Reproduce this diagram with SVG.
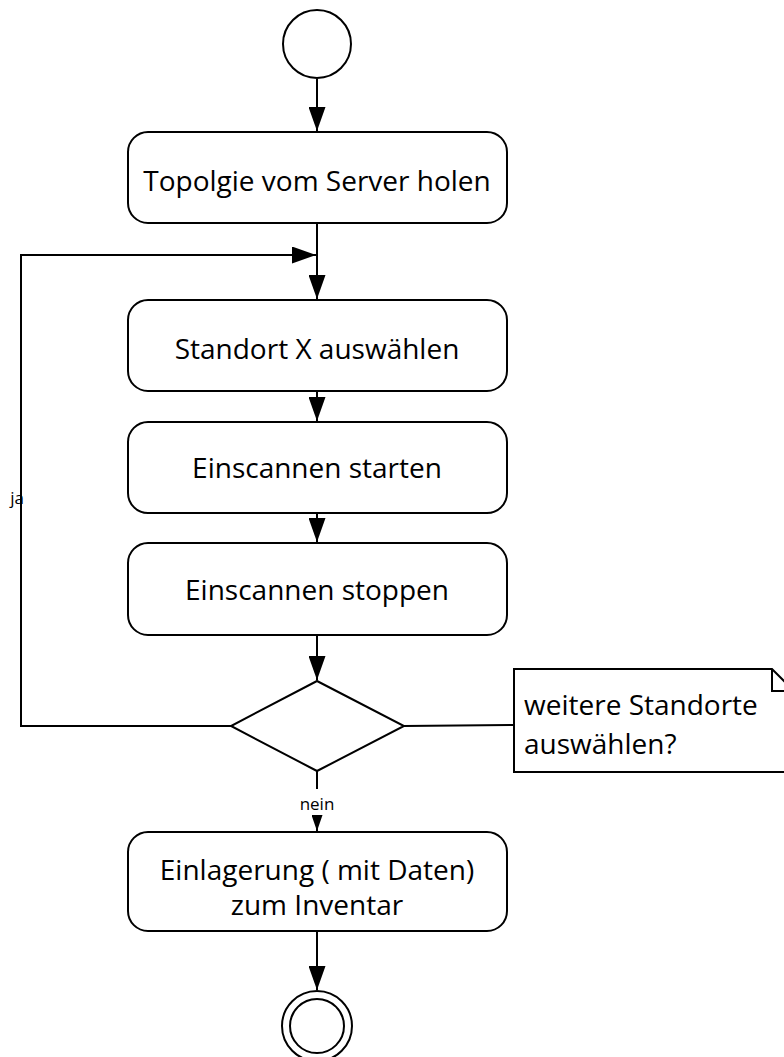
<svg xmlns="http://www.w3.org/2000/svg" width="784" height="1057" viewBox="0 0 784 1057">
<defs>
<style>
.n{fill:#fff;stroke:#000;stroke-width:2}
.t{font-family:"Open Sans","Liberation Sans",sans-serif;font-size:28px;fill:#000;text-anchor:middle}
.l{font-family:"Open Sans","Liberation Sans",sans-serif;font-size:17px;fill:#000;text-anchor:middle}
.c{fill:none;stroke:#000;stroke-width:2}
</style>
<marker id="a" viewBox="0 0 24 17" refX="24" refY="8.5" markerWidth="24" markerHeight="17" markerUnits="userSpaceOnUse" orient="auto"><path d="M0,0L24,8.5L0,17Z" fill="#000"/></marker>
<marker id="s" viewBox="0 0 16 11" refX="16" refY="5.5" markerWidth="16" markerHeight="11" markerUnits="userSpaceOnUse" orient="auto"><path d="M0,0L16,5.5L0,11Z" fill="#000"/></marker>
</defs>
<rect width="784" height="1057" fill="#fff"/>
<g id="connectors">
<path class="c" d="M317,79V131" marker-end="url(#a)"/>
<path class="c" d="M317,223V299" marker-end="url(#a)"/>
<path class="c" d="M231,726H21V483M21,513V255H316" marker-end="url(#a)"/>
<path class="c" d="M317,392V421" marker-end="url(#a)"/>
<path class="c" d="M317,513V542" marker-end="url(#a)"/>
<path class="c" d="M317,635V680" marker-end="url(#a)"/>
<path class="c" d="M317,771V789"/>
<path class="c" d="M317,816V831" marker-end="url(#s)"/>
<path class="c" d="M404,726L514,725"/>
<path class="c" d="M317,931V990" marker-end="url(#a)"/>
<text class="l" x="17" y="504">ja</text>
<text class="l" x="317" y="810">nein</text>
</g>
<g id="start"><circle class="n" cx="317" cy="44" r="34"/></g>
<g id="n1"><rect class="n" x="128" y="132" width="379" height="91" rx="20"/><text class="t" x="317" y="191">Topolgie vom Server holen</text></g>
<g id="n2"><rect class="n" x="128" y="300" width="379" height="91" rx="20"/><text class="t" x="317" y="359">Standort X auswählen</text></g>
<g id="n3"><rect class="n" x="128" y="422" width="379" height="91" rx="20"/><text class="t" x="317" y="478">Einscannen starten</text></g>
<g id="n4"><rect class="n" x="128" y="543" width="379" height="92" rx="20"/><text class="t" x="317" y="600">Einscannen stoppen</text></g>
<g id="decision"><path class="n" d="M317,681L404,726L317,771L231,726Z"/></g>
<g id="note"><path class="n" d="M514,669H772L792,689V772H514Z"/><path class="c" d="M772,669V691H792"/><text class="t" x="524" y="715" style="text-anchor:start">weitere Standorte</text><text class="t" x="524" y="754" style="text-anchor:start">auswählen?</text></g>
<g id="n5"><rect class="n" x="128" y="832" width="379" height="99" rx="20"/><text class="t" x="317" y="880">Einlagerung ( mit Daten)</text><text class="t" x="317" y="915">zum Inventar</text></g>
<g id="end"><circle class="n" cx="317" cy="1026" r="35"/><circle class="n" cx="317" cy="1026" r="27"/></g>
</svg>
